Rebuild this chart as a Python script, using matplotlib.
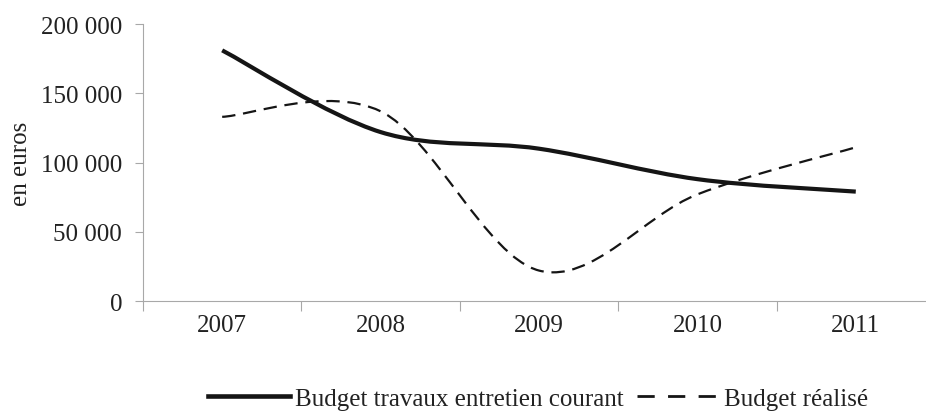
import numpy as np
from matplotlib import pyplot as plt
from matplotlib.path import Path
from matplotlib.patches import PathPatch
from matplotlib.lines import Line2D
from matplotlib.ticker import FuncFormatter

plt.rcParams['font.family'] = ['Liberation Serif', 'DejaVu Serif']

years = ["2007", "2008", "2009", "2010", "2011"]
budget_courant = [181000, 122000, 110000, 88000, 79000]
budget_realise = [133000, 137000, 22000, 77000, 111000]


def smooth_path(xs, ys):
    # Excel-like smoothed line: cubic Bezier segments with Catmull-Rom tangents
    pts = np.column_stack([xs, ys]).astype(float)
    n = len(pts)
    verts = [pts[0]]
    codes = [Path.MOVETO]
    for i in range(n - 1):
        p0 = pts[max(i - 1, 0)]
        p1 = pts[i]
        p2 = pts[i + 1]
        p3 = pts[min(i + 2, n - 1)]
        c1 = p1 + (p2 - p0) / 6.0
        c2 = p2 - (p3 - p1) / 6.0
        verts += [c1, c2, p2]
        codes += [Path.CURVE4] * 3
    return Path(verts, codes)


fig = plt.figure(figsize=(9.26, 4.14), dpi=100)
ax = fig.add_axes([0.1544, 0.2705, 0.8553, 0.669])

dash = (0, (6, 3.5))
x = np.arange(len(years))
ax.add_patch(PathPatch(smooth_path(x, budget_courant), fill=False,
                       edgecolor="#151515", lw=3.0, capstyle="butt"))
ax.add_patch(PathPatch(smooth_path(x, budget_realise), fill=False,
                       edgecolor="#151515", lw=1.6, linestyle=dash))

ax.set_xlim(-0.5, len(years) - 0.5)
ax.set_ylim(0, 200000)
ax.set_yticks(np.arange(0, 200001, 50000))
ax.yaxis.set_major_formatter(FuncFormatter(lambda v, p: f"{v:,.0f}".replace(",", " ")))
ax.set_xticks(x)
ax.set_xticklabels(years)
ax.set_xticks(np.arange(-0.5, len(years)), minor=True)

for s in ["top", "right"]:
    ax.spines[s].set_visible(False)
for s in ["left", "bottom"]:
    ax.spines[s].set_color("#a8a8a8")
    ax.spines[s].set_linewidth(0.8)

ax.tick_params(axis="y", length=5.8, width=0.8, color="#a8a8a8", labelsize=18,
               pad=9.3, labelcolor="#222222")
ax.tick_params(axis="x", which="major", length=0, labelsize=18, pad=9,
               labelcolor="#222222")
ax.tick_params(axis="x", which="minor", length=7, width=0.8, color="#a8a8a8")

ax.set_ylabel("en euros", fontsize=18, color="#222222", labelpad=6)

handles = [Line2D([], [], color="#151515", lw=3.3),
           Line2D([], [], color="#151515", lw=2.0, linestyle=(0, (6.2, 4.8)))]
fig.legend(handles, ["Budget travaux entretien courant", "Budget réalisé"],
           loc="center", bbox_to_anchor=(0.581, 0.034), ncol=2, frameon=False,
           fontsize=18, handlelength=3.3, handletextpad=0.2, columnspacing=0.5,
           labelcolor="#222222", borderpad=0)

fig.savefig("out.png", dpi=100)
